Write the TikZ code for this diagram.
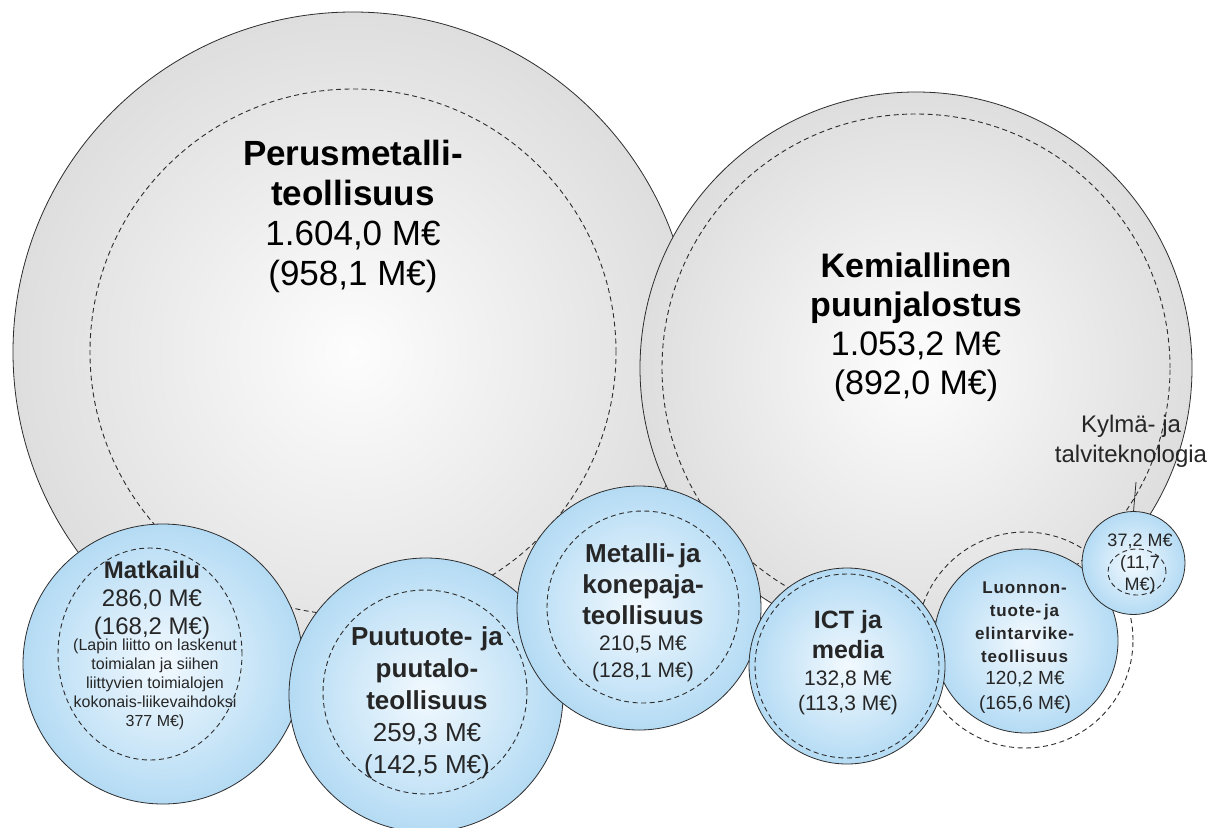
\documentclass[tikz,border=0pt]{standalone}
\usepackage{fontspec}
\setmainfont{Liberation Sans}
\usetikzlibrary{shapes.geometric}
\definecolor{greyedge}{RGB}{222,222,222}
\definecolor{greycenter}{RGB}{253,253,253}
\definecolor{blueedge}{RGB}{180,219,244}
\definecolor{bluecenter}{RGB}{242,249,254}
\definecolor{lineclr}{RGB}{45,45,45}
\newcommand\fsz[2]{\fontsize{#1}{#2}\selectfont}
\begin{document}
\begin{tikzpicture}[x=1pt,y=-1pt,
  greyball/.style={circle, draw=lineclr, line width=0.8pt, inner color=greycenter, outer color=greyedge, inner sep=0pt, outer sep=0pt},
  blueball/.style={circle, draw=lineclr, line width=0.8pt, inner color=bluecenter, outer color=blueedge, inner sep=0pt, outer sep=0pt},
  dashring/.style={circle, draw=lineclr, line width=0.9pt, dash pattern=on 5pt off 3.5pt, inner sep=0pt, outer sep=0pt},
  bigtxt/.style={align=center, inner sep=0pt, text=black},
  txt/.style={align=center, inner sep=0pt, text=black!85}]
\useasboundingbox (0,0) rectangle (1222,827);
\fill[white] (0,0) rectangle (1222,827);

% big grey circles
\node[greyball, minimum size=680pt] (perus) at (353,352) {};
\node[dashring, minimum size=526pt] (perusd) at (353,352) {};
\node[greyball, minimum size=552pt] (kemia) at (916,368) {};
\node[dashring, minimum size=508pt] (kemiad) at (916,368) {};

\node[bigtxt, font=\fsz{35}{40}] (perust) at (353,216)
  {\textbf{Perusmetalli-}\\\textbf{teollisuus}\\1.604,0 M€\\(958,1 M€)};
\node[bigtxt, font=\fsz{34}{39}] (kemiat) at (916,327)
  {\textbf{Kemiallinen}\\\textbf{puunjalostus}\\1.053,2 M€\\(892,0 M€)};

% Matkailu
\node[blueball, minimum size=280pt] (matka) at (163,664) {};
\node[dashring, ellipse, minimum width=184pt, minimum height=212pt] (matkad) at (150,654) {};
\node[txt, font=\fsz{24}{28}] (matkat) at (152,600)
  {\textbf{Matkailu}\\286,0 M€\\(168,2 M€)};
\node[txt, font=\fsz{16}{19}] (matkan) at (155,684.5)
  {(Lapin liitto on laskenut\\toimialan ja siihen\\liittyvien toimialojen\\kokonais-liikevaihdoksi\\377 M€)};

% Puutuote
\node[blueball, minimum size=274pt] (puu) at (426,695) {};
\node[dashring, minimum size=204pt] (puud) at (425,692) {};
\node[txt, font=\fsz{26}{32}] (puut) at (427,703)
  {\textbf{Puutuote-\,\,ja}\\\textbf{puutalo-}\\\textbf{teollisuus}\\259,3 M€\\(142,5 M€)};

% Metalli
\node[blueball, minimum size=244pt] (metal) at (639,608) {};
\node[dashring, minimum size=192pt] (metald) at (643,607) {};
\node[txt, font=\fsz{26}{31}] (metalt) at (643,584)
  {\textbf{Metalli-\,ja}\\\textbf{konepaja-}\\\textbf{teollisuus}};
\node[txt, font=\fsz{21}{27}] (metaln) at (643,658.5)
  {210,5 M€\\(128,1 M€)};

% Luonnon
\node[blueball, minimum size=184pt] (luon) at (1026,641) {};
\node[dashring, minimum size=216pt] (luond) at (1025,640) {};
\node[txt, font=\fsz{17}{23}\addfontfeature{LetterSpace=5}] (luont) at (1025,622.5)
  {\textbf{Luonnon-}\\\textbf{tuote-\,ja}\\\textbf{elintarvike-}\\\textbf{teollisuus}};
\node[txt, font=\fsz{19}{25}] (luonn) at (1025,692.5)
  {120,2 M€\\(165,6 M€)};

% ICT
\node[blueball, minimum size=196pt] (ict) at (847,666) {};
\node[dashring, minimum size=184pt] (ictd) at (847,666) {};
\node[txt, font=\fsz{25}{30}] (ictt) at (848,635)
  {\textbf{ICT ja}\\\textbf{media}};
\node[txt, font=\fsz{21}{25}] (ictn) at (848,692.5)
  {132,8 M€\\(113,3 M€)};

% Kylma
\node[blueball, minimum size=103pt] (kylma) at (1133.5,563) {};
\node[dashring, ellipse, minimum width=58pt, minimum height=46pt] (kylmad) at (1137,572) {};
\node[txt, font=\fsz{18}{22}] (kylmat) at (1140,564)
  {37,2 M€\\(11,7\\M€)};
\node[txt, font=\fsz{24}{30}] (kylmal) at (1131,441.5)
  {Kylmä- ja\\talviteknologia};
\coordinate (kylmaend) at (1136,482);
\draw[lineclr, line width=0.8pt] (kylmaend) -- (kylma.north);
\end{tikzpicture}
\end{document}
